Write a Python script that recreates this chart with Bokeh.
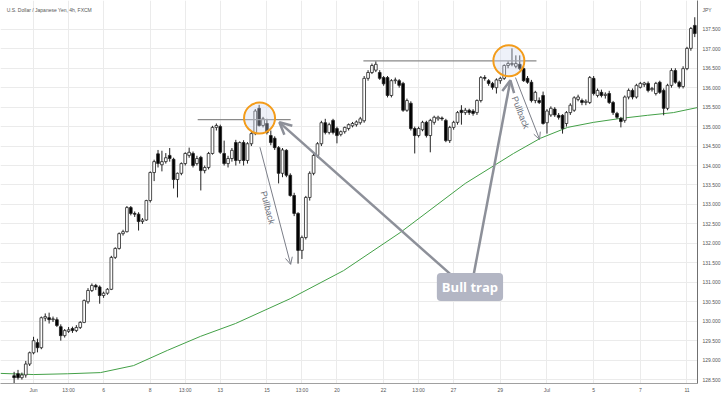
import math
from bokeh.plotting import figure
from bokeh.models import (ColumnDataSource, FixedTicker, NumeralTickFormatter, Label,
                          Arrow, OpenHead, Range1d)
from bokeh.embed import file_html
from bokeh.resources import INLINE

# ---------------- data (4h candles, index 0 = Jun 1 00:00) ----------------
first_index = -5
opens = [
    128.60, 128.65, 128.55, 128.62, 128.90, 129.19, 129.45, 129.32, 130.08, 130.09,
    130.04, 130.04, 129.86, 129.63, 129.74, 129.81, 129.76, 129.84, 129.97, 130.50,
    130.79, 130.92, 130.88, 130.66, 130.72, 130.82, 131.64, 131.87, 132.25, 132.30,
    132.92, 132.77, 132.75, 132.56, 132.60, 133.10, 133.82, 134.30, 134.02, 134.10,
    134.26, 134.16, 133.64, 133.80, 134.05, 134.26, 134.31, 134.05, 134.21, 133.87,
    133.95, 134.31, 134.98, 135.00, 134.31, 134.05, 134.18, 134.59, 134.13, 134.59,
    134.13, 134.56, 134.82, 135.47, 135.03, 135.08, 134.77, 134.70, 134.46, 133.80,
    134.39, 133.75, 133.23, 132.77, 131.82, 132.15, 133.18, 133.80, 134.26, 134.56,
    135.10, 134.85, 135.16, 134.95, 134.80, 134.87, 134.95, 135.02, 135.05, 135.10,
    135.15, 136.24, 136.39, 136.45, 136.39, 136.26, 136.26, 135.80, 136.18, 136.18,
    136.11, 135.42, 135.60, 134.95, 134.77, 134.92, 135.11, 134.77, 135.11, 135.20,
    135.22, 135.16, 134.64, 134.98, 135.11, 135.42, 135.36, 135.42, 135.40, 135.36,
    135.67, 136.26, 136.18, 136.11, 136.00, 136.18, 136.24, 136.57, 136.60, 136.55,
    136.60, 136.49, 136.24, 136.14, 135.67, 135.67, 135.80, 135.10, 135.30, 135.45,
    135.29, 135.29, 135.08, 135.36, 135.42, 135.70, 135.67, 135.62, 135.62, 136.24,
    135.80, 135.88, 135.80, 135.85, 135.62, 135.34, 135.21, 135.16, 135.76, 135.93,
    135.76, 136.01, 136.08, 136.11, 135.95, 135.85, 136.14, 135.93, 135.47, 136.06,
    136.44, 136.14, 136.03, 136.49, 137.01, 137.60,
]
highs = [
    128.70, 128.75, 128.68, 128.98, 129.22, 129.60, 129.55, 130.12, 130.20, 130.22,
    130.12, 130.10, 129.92, 129.80, 129.85, 129.86, 129.90, 130.00, 130.56, 130.85,
    130.97, 130.96, 130.92, 130.76, 130.85, 131.68, 131.90, 132.28, 132.35, 132.96,
    132.96, 132.82, 132.80, 132.65, 133.12, 133.85, 134.15, 134.40, 134.38, 134.32,
    134.45, 134.20, 133.82, 134.08, 134.34, 134.46, 134.36, 134.25, 134.25, 134.00,
    134.35, 135.02, 135.08, 135.05, 134.64, 134.25, 134.45, 134.66, 134.62, 134.65,
    134.60, 134.86, 135.45, 135.56, 135.25, 135.20, 134.90, 134.75, 134.50, 134.45,
    134.42, 133.80, 133.30, 132.80, 132.20, 133.22, 133.85, 134.30, 134.60, 135.15,
    135.20, 135.10, 135.20, 135.00, 134.90, 135.00, 135.08, 135.12, 135.16, 135.25,
    136.30, 136.45, 136.62, 136.68, 136.45, 136.30, 136.30, 136.22, 136.26, 136.22,
    136.15, 135.72, 135.65, 135.00, 135.00, 135.15, 135.15, 135.20, 135.28, 135.28,
    135.26, 135.20, 135.02, 135.15, 135.40, 135.55, 135.48, 135.46, 135.45, 135.70,
    136.30, 136.32, 136.22, 136.15, 136.24, 136.28, 136.60, 136.68, 137.01, 136.83,
    136.83, 136.55, 136.30, 136.20, 135.92, 135.75, 135.90, 135.45, 135.52, 135.50,
    135.35, 135.32, 135.40, 135.60, 135.78, 135.82, 135.72, 135.70, 136.30, 136.30,
    135.98, 135.95, 135.88, 135.92, 135.66, 135.38, 135.25, 135.80, 135.98, 135.98,
    136.10, 136.15, 136.15, 136.16, 136.02, 136.15, 136.18, 135.98, 136.10, 136.50,
    136.50, 136.18, 136.55, 137.05, 137.56, 137.81,
]
lows = [
    128.40, 128.50, 128.50, 128.55, 128.85, 129.15, 129.20, 129.28, 130.00, 129.94,
    129.98, 129.85, 129.50, 129.58, 129.70, 129.70, 129.72, 129.80, 129.95, 130.45,
    130.75, 130.80, 130.45, 130.60, 130.68, 130.80, 131.60, 131.84, 132.20, 132.28,
    132.72, 132.68, 132.33, 132.50, 132.58, 133.05, 133.60, 133.95, 133.85, 134.05,
    134.10, 133.41, 133.18, 133.75, 134.00, 134.20, 133.95, 134.00, 133.36, 133.80,
    133.90, 134.28, 134.90, 134.30, 134.00, 133.95, 134.10, 134.00, 134.05, 134.00,
    134.05, 134.50, 134.78, 135.00, 134.98, 134.80, 134.52, 134.40, 133.54, 133.70,
    133.70, 133.20, 132.70, 131.48, 131.60, 132.10, 133.10, 133.75, 134.20, 134.50,
    134.80, 134.80, 134.80, 134.57, 134.75, 134.82, 134.90, 134.98, 135.00, 135.05,
    135.10, 136.18, 136.35, 136.40, 136.20, 136.05, 135.75, 135.75, 136.10, 136.00,
    135.38, 135.38, 134.90, 134.31, 134.72, 134.88, 134.72, 134.34, 135.05, 135.15,
    135.15, 134.60, 134.58, 134.92, 135.05, 135.05, 135.30, 135.30, 135.28, 135.30,
    135.62, 136.18, 136.05, 135.95, 135.85, 136.10, 136.20, 136.50, 136.55, 136.50,
    136.45, 136.15, 136.10, 135.62, 135.60, 135.58, 135.05, 134.82, 135.25, 135.25,
    135.18, 134.82, 135.00, 135.30, 135.38, 135.65, 135.55, 135.55, 135.58, 135.80,
    135.75, 135.75, 135.72, 135.58, 135.30, 135.20, 134.98, 135.10, 135.70, 135.70,
    135.72, 135.98, 136.02, 135.88, 135.90, 135.80, 135.84, 135.29, 135.42, 136.00,
    136.10, 135.98, 135.98, 136.45, 136.95, 137.30,
]
closes = [
    128.55, 128.55, 128.62, 128.90, 129.19, 129.50, 129.32, 130.09, 130.12, 130.04,
    130.06, 129.89, 129.63, 129.76, 129.78, 129.76, 129.84, 129.97, 130.53, 130.79,
    130.92, 130.88, 130.66, 130.72, 130.82, 131.64, 131.87, 132.25, 132.30, 132.92,
    132.77, 132.75, 132.56, 132.60, 133.10, 133.82, 134.10, 134.05, 134.10, 134.20,
    134.18, 133.64, 133.80, 134.05, 134.31, 134.34, 134.00, 134.18, 133.87, 133.95,
    134.31, 134.98, 135.03, 134.34, 134.05, 134.18, 134.39, 134.13, 134.59, 134.13,
    134.56, 134.82, 135.40, 135.03, 135.20, 134.85, 134.59, 134.46, 133.80, 134.40,
    133.75, 133.23, 132.77, 131.82, 132.15, 133.18, 133.80, 134.26, 134.56, 135.10,
    134.85, 135.05, 134.85, 134.77, 134.87, 134.98, 135.05, 135.08, 135.12, 135.20,
    136.24, 136.39, 136.57, 136.60, 136.24, 136.10, 135.80, 136.18, 136.20, 136.06,
    135.42, 135.67, 134.95, 134.77, 134.95, 135.11, 134.77, 135.16, 135.24, 135.24,
    135.20, 134.64, 134.98, 135.11, 135.36, 135.36, 135.42, 135.36, 135.34, 135.67,
    136.26, 136.24, 136.11, 136.01, 136.20, 136.24, 136.57, 136.62, 136.62, 136.62,
    136.49, 136.18, 136.14, 135.67, 135.88, 135.62, 135.08, 135.40, 135.47, 135.30,
    135.24, 134.95, 135.36, 135.55, 135.74, 135.76, 135.62, 135.65, 136.26, 135.85,
    135.93, 135.80, 135.83, 135.62, 135.36, 135.24, 135.13, 135.76, 135.93, 135.76,
    136.06, 136.11, 136.12, 135.93, 135.98, 136.11, 135.88, 135.47, 136.06, 136.44,
    136.14, 136.03, 136.49, 137.01, 137.52, 137.39,
]

# moving average (green line), sampled
ma_index = [-8.5, 0, 8.7, 17.2, 25.7, 34.4, 42.9, 51.9, 66.0, 79.7, 94.3, 111.0,
            123.4, 130.3, 137.3, 144.0, 150.9, 157.8, 164.5, 170.7]
ma_value = [128.66, 128.63, 128.65, 128.68, 128.86, 129.25, 129.61, 129.94, 130.58,
            131.30, 132.28, 133.54, 134.31, 134.70, 134.98, 135.11, 135.21, 135.29,
            135.36, 135.49]

# time-axis labels
tick_index = [0, 9, 18, 30, 39, 48, 60, 69, 78, 90, 99, 108, 120, 132, 144, 156, 168]
tick_labels = ["Jun", "13:00", "6", "8", "13:00", "13", "15", "13:00", "20", "22",
               "13:00", "27", "29", "Jul", "5", "7", "11"]

# price-axis labels (top slot shows the currency)
price_ticks = [128.5, 129.0, 129.5, 130.0, 130.5, 131.0, 131.5, 132.0, 132.5, 133.0,
               133.5, 134.0, 134.5, 135.0, 135.5, 136.0, 136.5, 137.0, 137.5, 138.0]
price_top_label = "JPY"

# annotations (index, price)
level_x0 = [42.2, 84.8]
level_x1 = [66.1, 129.3]
level_y = [135.18, 136.69]
circle_x = [58.1, 122.2]
circle_y = [135.22, 136.69]
trap_label = (112.2, 130.88)
trap_arrows = [((107.6, 131.17), (63.2, 135.11)), ((113.1, 131.17), (122.6, 136.19))]
pull_arrows = [((58.2, 134.47), (66.1, 131.46)), ((123.9, 136.26), (130.1, 134.67))]
pull_texts = [(60.2, 132.92, -75.2), (125.2, 135.36, -68.8)]
title_pos = (-6.9, 138.0)

# ---------------- build ----------------
n = min(len(opens), len(highs), len(lows), len(closes))
xs = [first_index + k for k in range(n)]
tops = [max(opens[k], closes[k]) for k in range(n)]
bots = [min(opens[k], closes[k]) for k in range(n)]
fills = ["#000000" if closes[k] < opens[k] else "#ffffff" for k in range(n)]
hi = [max(highs[k], tops[k]) for k in range(n)]
lo = [min(lows[k], bots[k]) for k in range(n)]
src = ColumnDataSource(dict(x=xs, top=tops, bottom=bots, fill=fills, high=hi, low=lo))

p = figure(width=724, height=396, x_range=Range1d(-8.5, 170.7),
           y_range=Range1d(128.40, 138.24), y_axis_location="right",
           output_backend="svg", toolbar_location=None,
           min_border_left=0, min_border_top=0, min_border_right=27,
           min_border_bottom=13)
p.outline_line_color = None
p.background_fill_color = "#ffffff"
p.border_fill_color = "#ffffff"

p.xaxis.ticker = FixedTicker(ticks=tick_index)
p.xgrid.ticker = FixedTicker(ticks=tick_index)
p.xaxis.major_label_overrides = {t: l for t, l in zip(tick_index, tick_labels)}
p.yaxis.ticker = FixedTicker(ticks=price_ticks)
p.ygrid.ticker = FixedTicker(ticks=price_ticks[:-1])
p.yaxis.formatter = NumeralTickFormatter(format="0.000")
p.yaxis.major_label_overrides = {price_ticks[-1]: price_top_label}
p.grid.grid_line_color = "#ebebeb"
p.grid.grid_line_width = 1

for ax in (p.xaxis[0], p.yaxis[0]):
    ax.major_tick_line_color = None
    ax.minor_tick_line_color = None
    ax.major_tick_out = 0
    ax.major_tick_in = 0
    ax.minor_tick_out = 0
    ax.minor_tick_in = 0
    ax.major_label_text_font = "Liberation Sans"
    ax.major_label_text_font_size = "5px"
    ax.major_label_text_color = "#555555"
p.xaxis.major_label_standoff = 3
p.yaxis.major_label_standoff = 5
p.xaxis.axis_line_color = "#a0a0a0"
p.yaxis.axis_line_color = "#707070"

p.line(ma_index, ma_value, line_color="#43a047", line_width=1)

p.segment(x0="x", y0="low", x1="x", y1="high", source=src, line_color="#222222",
          line_width=1)
p.vbar(x="x", width=0.7, top="top", bottom="bottom", source=src, fill_color="fill",
       line_color="#222222", line_width=0.8)

p.segment(x0=level_x0, y0=level_y, x1=level_x1, y1=level_y, line_color="#8a8a8a",
          line_width=1.3)
p.scatter(x=circle_x, y=circle_y, marker="circle", size=31, line_color="#f39c1b",
          line_width=2, fill_color="#cdd8ef", fill_alpha=0.35)

for (x0, y0), (x1, y1) in trap_arrows:
    p.add_layout(Arrow(x_start=x0, y_start=y0, x_end=x1, y_end=y1,
                       line_color="#8d9099", line_width=2.5,
                       end=OpenHead(size=12, line_color="#8d9099", line_width=2.5)))
for (x0, y0), (x1, y1) in pull_arrows:
    p.add_layout(Arrow(x_start=x0, y_start=y0, x_end=x1, y_end=y1,
                       line_color="#7b7e88", line_width=1,
                       end=OpenHead(size=7, line_color="#7b7e88", line_width=1)))
for tx, ty, ang in pull_texts:
    p.add_layout(Label(x=tx, y=ty, text="Pullback", angle=math.radians(ang),
                       text_align="center", text_baseline="middle",
                       text_font="Liberation Sans", text_font_size="9px",
                       text_color="#6b6f7a"))

p.add_layout(Label(x=trap_label[0], y=trap_label[1], text="Bull trap",
                   text_align="center", text_baseline="middle",
                   text_font="Open Sans", text_font_style="bold",
                   text_font_size="13px", text_color="#ffffff",
                   background_fill_color="#b3b6c4", background_fill_alpha=1.0,
                   border_radius=4, padding=5))

p.add_layout(Label(x=title_pos[0], y=title_pos[1],
                   text="U.S. Dollar / Japanese Yen, 4h, FXCM",
                   text_align="left", text_baseline="middle",
                   text_font="Liberation Sans", text_font_size="5px",
                   text_color="#555555"))

open("out.html", "w").write(file_html(p, INLINE))
